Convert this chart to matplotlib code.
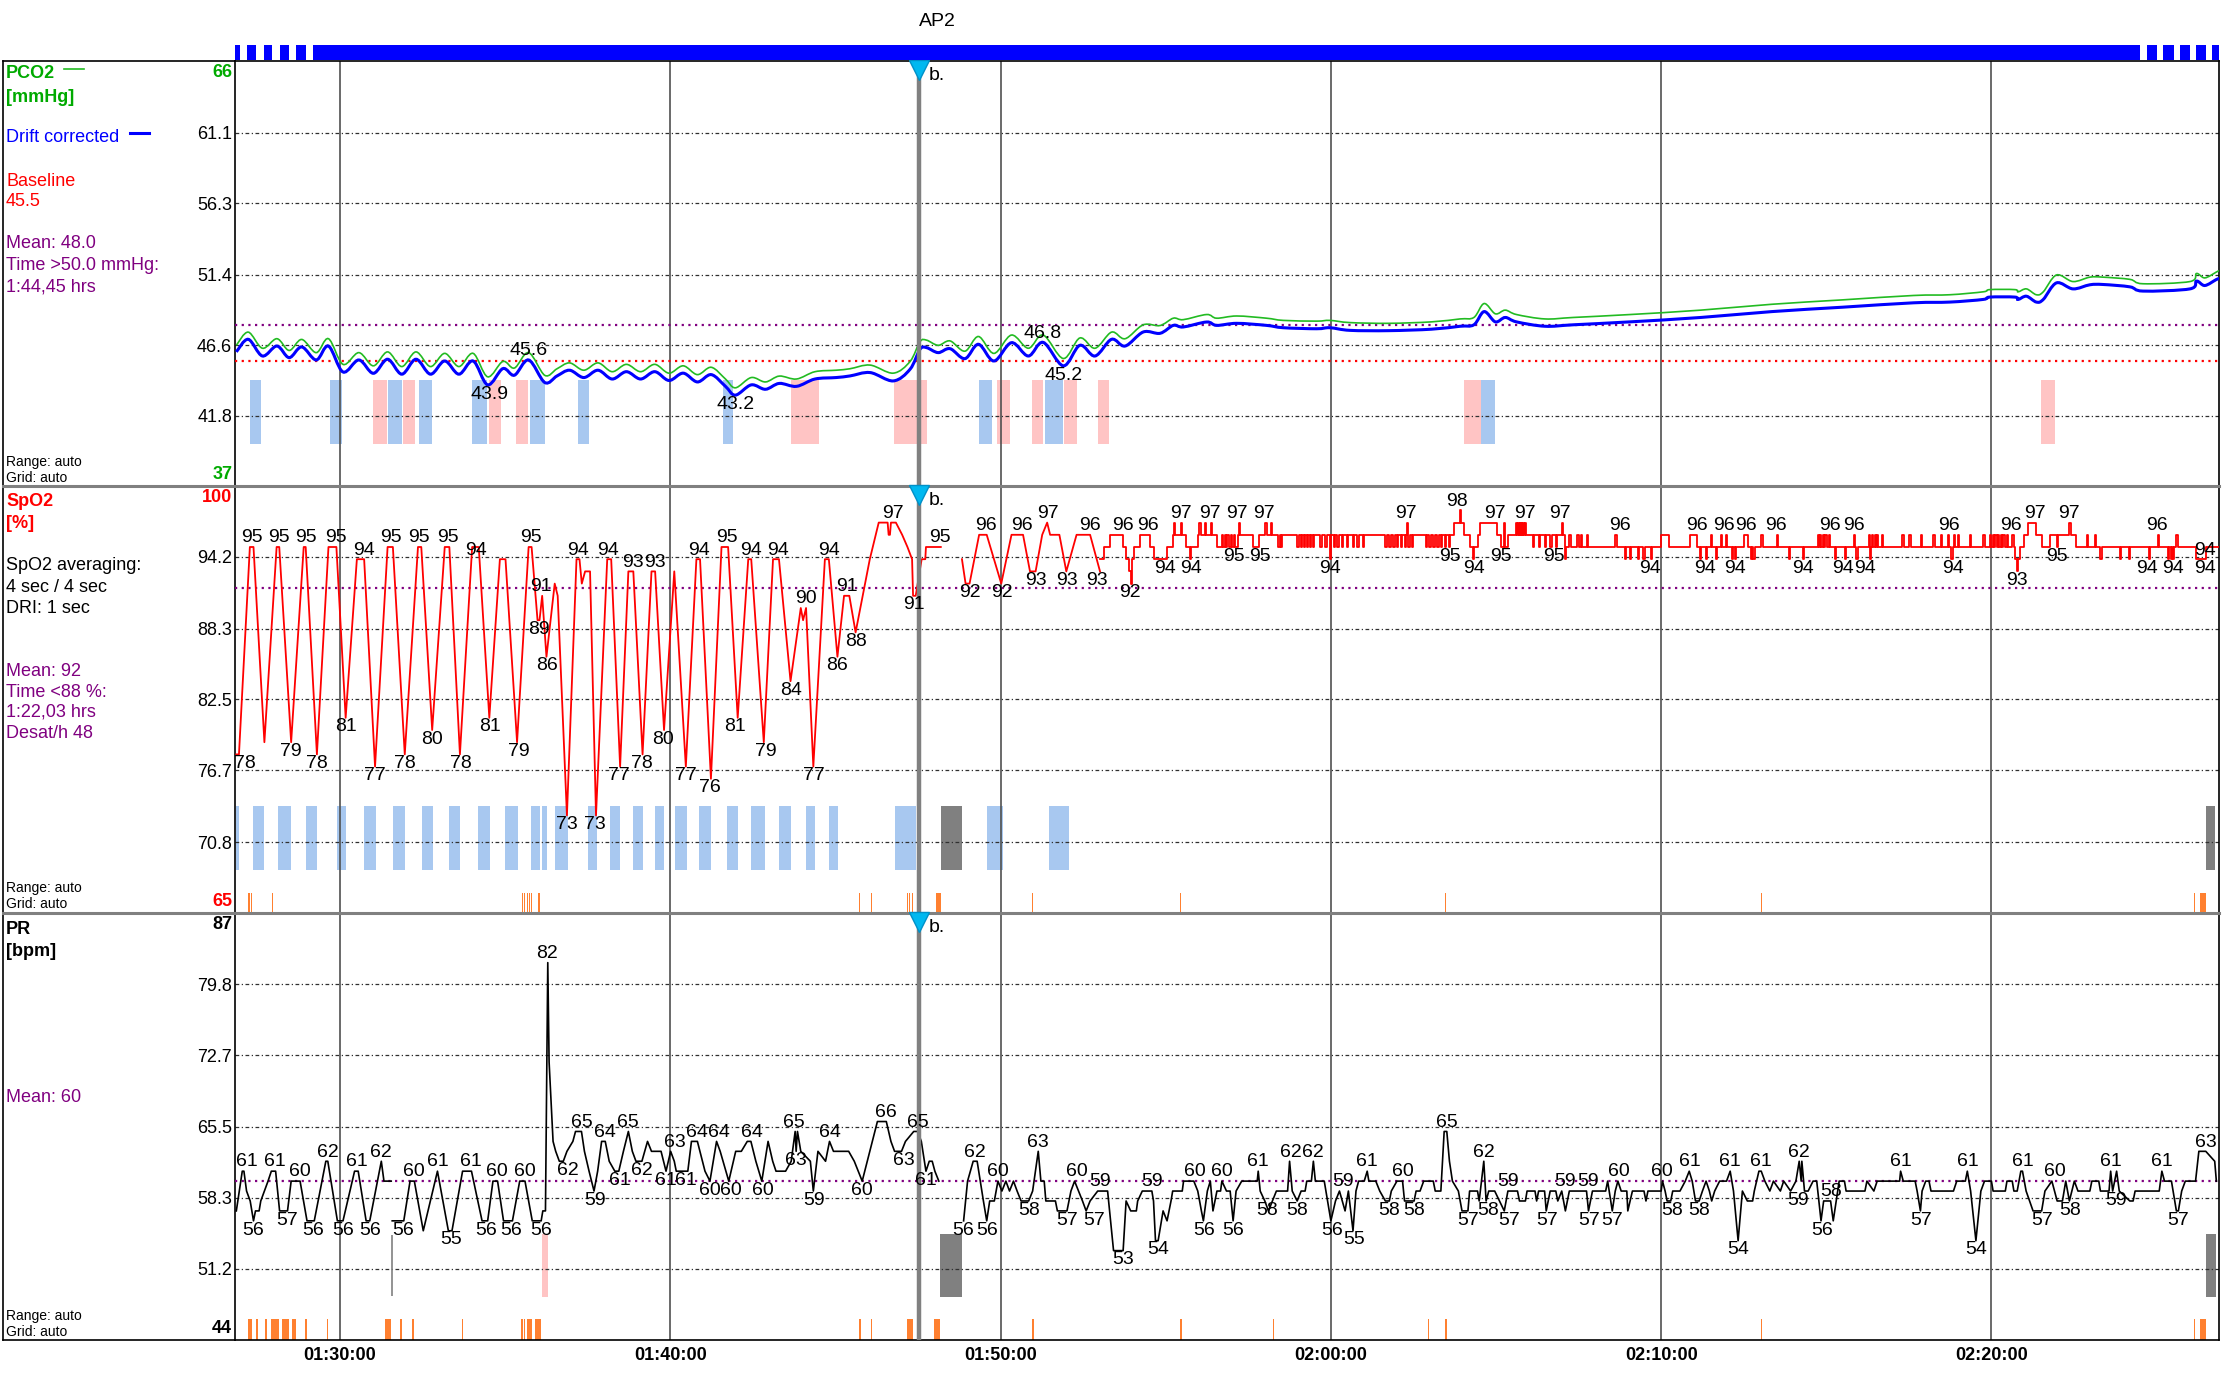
import numpy as np
import matplotlib
matplotlib.use("Agg")
import matplotlib.pyplot as plt
from matplotlib.lines import Line2D
from matplotlib.path import Path
from matplotlib.patches import PathPatch
from matplotlib.transforms import blended_transform_factory

plt.rcParams['font.family'] = ['Liberation Sans', 'DejaVu Sans']

# time axis: minutes after midnight
x_range = (86.82, 146.89)
time_ticks = [90, 100, 110, 120, 130, 140]
time_labels = ['01:30:00', '01:40:00', '01:50:00', '02:00:00', '02:10:00', '02:20:00']
marker_b = 107.53

# ---------------- PCO2 (t, drift corrected, raw) ----------------
pco2_points = [
    (86.86, 46.15, 46.60), (87.22, 47.01, 47.50), (87.65, 45.87, 46.40), (88.09, 46.55, 47.05),
    (88.46, 45.76, 46.25), (88.84, 46.49, 47.00), (89.28, 45.60, 46.10), (89.65, 46.55, 47.05),
    (90.09, 44.78, 45.30), (90.57, 45.60, 46.10), (91.01, 44.69, 45.20), (91.44, 45.65, 46.15),
    (91.87, 44.63, 45.15), (92.30, 45.65, 46.15), (92.74, 44.63, 45.15), (93.17, 45.53, 46.05),
    (93.60, 44.63, 45.15), (94.03, 45.53, 46.05), (94.47, 43.90, 44.45), (94.93, 45.01, 45.50),
    (95.28, 44.56, 45.05), (95.71, 45.60, 46.10), (96.20, 44.06, 44.55), (96.57, 44.51, 45.00),
    (96.95, 44.90, 45.40), (97.38, 44.40, 44.90), (97.81, 44.90, 45.40), (98.24, 44.30, 44.80),
    (98.67, 44.80, 45.30), (99.10, 44.30, 44.80), (99.53, 44.80, 45.30), (99.96, 44.20, 44.70),
    (100.39, 44.70, 45.20), (100.82, 44.10, 44.60), (101.24, 44.60, 45.10), (101.67, 43.80, 44.30),
    (101.97, 43.20, 43.70), (102.45, 43.90, 44.40), (102.88, 43.60, 44.10), (103.30, 44.00, 44.50),
    (103.82, 43.80, 44.30), (104.38, 44.30, 44.80), (105.02, 44.40, 44.90), (105.44, 44.51, 45.00),
    (106.05, 44.74, 45.25), (106.75, 44.17, 44.70), (107.26, 44.97, 45.50), (107.56, 46.33, 46.85),
    (107.76, 46.44, 46.95), (108.11, 46.10, 46.60), (108.47, 46.37, 46.90), (108.92, 45.69, 46.20),
    (109.33, 46.67, 47.20), (109.80, 45.53, 46.05), (110.33, 46.78, 47.30), (110.84, 45.87, 46.40),
    (111.29, 46.80, 47.30), (111.90, 45.20, 45.70), (112.40, 46.60, 47.10), (112.86, 45.87, 46.40),
    (113.36, 47.01, 47.50), (113.77, 46.55, 47.05), (114.32, 47.51, 48.00), (114.83, 47.42, 47.95),
    (115.23, 47.96, 48.45), (115.53, 47.85, 48.35), (116.24, 48.19, 48.70), (116.54, 47.96, 48.45),
    (117.15, 48.10, 48.60), (118.05, 47.96, 48.45), (118.56, 47.80, 48.30), (119.57, 47.73, 48.25),
    (119.97, 47.80, 48.30), (120.58, 47.62, 48.15), (121.76, 47.60, 48.10), (123.05, 47.70, 48.20),
    (123.91, 47.90, 48.40), (124.33, 48.00, 48.50), (124.64, 48.90, 49.45), (124.98, 48.20, 48.75),
    (125.28, 48.50, 49.00), (125.62, 48.20, 48.70), (126.48, 47.90, 48.40), (127.34, 48.00, 48.50),
    (129.06, 48.20, 48.70), (131.20, 48.50, 49.00), (133.35, 48.90, 49.40), (135.49, 49.20, 49.70),
    (137.64, 49.50, 50.00), (138.74, 49.55, 50.05), (139.75, 49.73, 50.25), (139.95, 49.89, 50.40),
    (140.71, 49.89, 50.40), (140.81, 49.73, 50.25), (141.06, 49.95, 50.45), (141.36, 49.55, 50.05),
    (141.57, 49.73, 50.25), (141.97, 50.86, 51.40), (142.47, 50.45, 50.95), (142.98, 50.73, 51.25),
    (143.38, 50.75, 51.25), (144.19, 50.59, 51.10), (144.59, 50.30, 50.80), (146.01, 50.45, 50.95),
    (146.21, 50.98, 51.50), (146.46, 50.68, 51.20), (146.81, 51.09, 51.60), (146.89, 51.15, 51.70),
]
pco2_hi = [(95.71, 45.6), (111.27, 46.8)]
pco2_lo = [(94.52, 43.9), (101.97, 43.2), (111.92, 45.2)]
pco2_mean, pco2_baseline = 48.0, 45.5
pco2_blue_bars = [(87.28, 87.60), (89.69, 90.06), (91.45, 91.87), (92.39, 92.77), (94.01, 94.44),
                  (95.74, 96.20), (97.21, 97.55), (101.59, 101.89), (109.34, 109.74),
                  (111.34, 111.88), (124.55, 124.98)]
pco2_pink_bars = [(91.01, 91.41), (91.90, 92.27), (94.50, 94.87), (95.33, 95.69), (103.65, 104.51),
                  (106.78, 107.78), (109.89, 110.28), (110.94, 111.29), (111.92, 112.32),
                  (112.94, 113.29), (124.03, 124.55), (141.50, 141.93)]

# ---------------- SpO2 ----------------
spo2_wave = [
    (86.86, 78), (86.94, 78), (87.27, 95), (87.38, 95), (87.71, 79), (88.08, 95), (88.16, 95),
    (88.52, 79), (88.90, 95), (88.96, 95), (89.30, 78), (89.65, 95), (89.89, 95), (90.17, 81),
    (90.51, 94), (90.73, 94), (91.06, 77), (91.44, 95), (91.60, 95), (91.96, 78), (92.36, 95),
    (92.46, 95), (92.79, 80), (93.17, 95), (93.31, 95), (93.63, 78), (94.00, 95), (94.20, 95),
    (94.52, 81), (94.84, 94), (95.01, 94), (95.36, 79), (95.71, 95), (95.80, 95), (95.98, 89),
    (96.04, 89), (96.12, 91), (96.25, 86), (96.50, 92), (96.59, 91), (96.87, 73), (97.16, 94),
    (97.25, 94), (97.32, 92), (97.42, 93), (97.57, 93), (97.75, 73), (98.09, 94), (98.21, 94),
    (98.48, 77), (98.73, 93), (98.88, 93), (99.16, 78), (99.43, 93), (99.54, 93), (99.81, 80),
    (100.12, 93), (100.47, 77), (100.79, 94), (100.90, 94), (101.23, 76), (101.55, 95),
    (101.75, 95), (102.04, 81), (102.36, 94), (102.45, 94), (102.83, 79), (103.11, 94),
    (103.29, 94), (103.64, 84), (103.95, 90), (104.02, 89), (104.11, 90), (104.33, 77),
    (104.68, 94), (104.80, 94), (105.06, 86), (105.26, 91), (105.42, 91), (105.61, 88),
    (106.04, 94), (106.31, 97), (106.58, 97), (106.61, 96), (106.65, 96), (106.68, 97),
    (106.83, 97), (107.02, 96), (107.18, 95), (107.32, 94), (107.35, 91), (107.43, 91),
    (107.61, 94), (107.72, 94), (107.74, 95), (108.19, 95),
]
spo2_after_gap = [
    (108.83, 94), (108.94, 92), (109.06, 92), (109.35, 96), (109.58, 96), (110.02, 92), (110.33, 96),
    (110.68, 96), (110.89, 93), (111.06, 93), (111.26, 96), (111.41, 97), (111.50, 96), (111.78, 96),
    (111.99, 93), (112.30, 96), (112.71, 96), (113.01, 93),
]
# stable part: level changes (t, value) plus short spikes per value
spo2_levels = [
    (113.01, 94), (113.12, 95), (113.30, 96), (113.71, 95), (113.80, 94), (113.88, 93), (113.94, 92),
    (113.98, 94), (114.05, 95), (114.23, 96), (114.52, 95), (114.63, 94), (115.04, 95), (115.21, 96),
    (115.62, 95), (115.97, 96), (116.55, 95), (117.18, 96), (117.65, 95), (117.82, 96), (123.74, 97),
    (124.03, 96), (124.20, 95), (124.44, 96), (124.50, 97), (125.02, 96), (125.14, 95),
    (125.37, 96), (125.60, 97), (125.91, 96), (127.08, 94), (127.12, 95), (130.00, 96), (130.24, 95),
    (130.88, 96), (131.09, 95), (132.51, 96), (132.62, 95), (140.72, 94), (140.86, 95), (141.00, 96),
    (141.10, 97), (141.34, 96), (141.52, 95), (141.76, 96), (141.97, 95), (142.02, 96), (142.57, 95),
    (146.18, 94), (146.49, 95), (146.89, 95),
]
spo2_spikes = {
    98: [123.91],
    97: [115.25, 115.45, 116.02, 116.18, 116.37, 117.22, 118.02, 118.19, 122.29, 125.23, 126.99, 142.36],
    96: [116.70, 116.78, 116.87, 116.98, 117.07, 125.64, 125.69, 125.74, 125.79, 125.84,
         127.22, 127.46, 127.57, 127.74, 128.61, 131.51, 131.80, 131.96, 133.03, 133.50, 134.74,
         134.81, 134.89, 134.97, 135.07, 135.84, 136.28, 136.38, 136.46, 136.54, 136.68, 137.30,
         137.51, 137.87, 138.24, 138.47, 138.68, 138.87, 138.99, 139.34, 139.75, 139.96, 140.05,
         140.12, 140.20, 140.29, 140.36, 140.47, 140.63, 142.88, 143.14, 145.03, 145.60],
    95: [118.41, 118.49, 118.98, 119.10, 119.18, 119.27, 119.37, 119.45, 119.68, 119.83, 120.08,
         120.20, 120.34, 120.49, 120.66, 120.80, 120.96, 121.65, 121.77, 121.89, 122.00, 122.12,
         122.24, 122.35, 122.46, 122.88, 122.98, 123.10, 123.22, 123.33, 123.45, 123.57, 126.12,
         126.29, 126.47, 126.64, 126.81],
    94: [115.73, 119.97, 124.29, 128.90, 129.05, 129.30, 129.46, 129.69, 131.18, 131.36, 131.65,
         132.14, 132.23, 132.72, 132.79, 133.87, 134.29, 135.25, 135.57, 135.91, 136.31, 138.79,
         143.30, 143.88, 144.17, 144.77, 145.34, 145.43, 145.50],
    93: [140.76],
}
spo2_hi = [
    (87.34, 95), (88.15, 95), (88.97, 95), (89.87, 95), (90.73, 94), (91.55, 95), (92.40, 95),
    (93.26, 95), (94.12, 94), (95.79, 95), (96.09, 91), (97.21, 94), (98.11, 94), (98.88, 93),
    (99.53, 93), (100.86, 94), (101.72, 95), (102.45, 94), (103.26, 94), (104.12, 90), (104.81, 94),
    (105.36, 91), (106.74, 97), (108.15, 95), (109.57, 96), (110.64, 96), (111.42, 97), (112.70, 96),
    (113.69, 96), (114.46, 96), (115.45, 97), (116.35, 97), (117.17, 97), (117.98, 97), (122.27, 97),
    (123.82, 98), (124.98, 97), (125.88, 97), (126.95, 97), (128.75, 96), (131.07, 96), (131.89, 96),
    (132.57, 96), (133.48, 96), (135.11, 96), (135.84, 96), (138.71, 96), (140.60, 96), (141.33, 97),
    (142.36, 97), (145.02, 96), (146.48, 94),
]
spo2_lo = [
    (87.12, 78), (88.50, 79), (89.31, 78), (90.17, 81), (91.07, 77), (91.97, 78), (92.79, 80),
    (93.65, 78), (94.55, 81), (95.41, 79), (96.01, 89), (96.27, 86), (96.87, 73), (97.73, 73),
    (98.45, 77), (99.14, 78), (99.79, 80), (100.47, 77), (101.20, 76), (101.97, 81), (102.88, 79),
    (103.65, 84), (104.34, 77), (105.06, 86), (105.62, 88), (107.38, 91), (109.06, 92), (110.04, 92),
    (111.07, 93), (112.02, 93), (112.92, 93), (113.91, 92), (114.98, 94), (115.75, 94), (117.08, 95),
    (117.85, 95), (119.96, 94), (123.61, 95), (124.33, 94), (125.15, 95), (126.74, 95), (129.66, 94),
    (131.33, 94), (132.23, 94), (134.29, 94), (135.50, 94), (136.17, 94), (138.84, 94), (140.77, 93),
    (141.97, 95), (144.72, 94), (145.49, 94), (146.48, 94),
]
spo2_mean = 91.6
spo2_blue_bars = [(86.86, 86.93), (87.36, 87.71), (88.12, 88.51), (88.96, 89.31), (89.90, 90.19),
                  (90.74, 91.09), (91.60, 91.98), (92.47, 92.81), (93.29, 93.63), (94.17, 94.54),
                  (94.99, 95.39), (95.78, 96.05), (96.12, 96.28), (96.50, 96.90), (97.50, 97.77),
                  (98.17, 98.49), (98.87, 99.18), (99.54, 99.82), (100.15, 100.52), (100.88, 101.22),
                  (101.72, 102.04), (102.44, 102.87), (103.28, 103.65), (104.12, 104.38),
                  (104.80, 105.08), (106.81, 107.43), (109.58, 110.06), (111.46, 112.07)]
spo2_grey_bars = [(108.21, 108.82), (146.49, 146.78)]
spo2_marks = [(87.20, 87.22), (87.24, 87.26), (87.31, 87.33), (87.95, 87.97), (95.51, 95.53),
              (95.58, 95.60), (95.65, 95.67), (95.73, 95.75), (95.78, 95.80), (96.00, 96.05),
              (105.72, 105.74), (106.07, 106.09), (107.17, 107.19), (107.23, 107.25),
              (107.31, 107.33), (108.04, 108.21), (110.94, 110.96), (115.42, 115.45),
              (123.45, 123.47), (133.01, 133.03), (146.13, 146.15), (146.32, 146.49)]

# ---------------- PR ----------------
pr_points = [
    (86.86, 57), (87.04, 61), (87.09, 61), (87.17, 59), (87.28, 58), (87.33, 57), (87.38, 56),
    (87.44, 57), (87.55, 57), (87.60, 58), (87.71, 59), (87.82, 60), (87.92, 61), (88.05, 61),
    (88.17, 57), (88.41, 57), (88.52, 60), (88.79, 60), (89.00, 56), (89.22, 56), (89.57, 62),
    (89.63, 62), (89.92, 56), (90.09, 56), (90.44, 61), (90.55, 61), (90.79, 56), (90.90, 56),
    (91.25, 62), (91.33, 60), (91.55, 60), (91.56, np.nan), (91.58, 56), (91.93, 56), (92.12, 60),
    (92.25, 60), (92.52, 55), (92.95, 61), (93.28, 55), (93.39, 55), (93.71, 61), (93.98, 61),
    (94.30, 56), (94.47, 56), (94.63, 60), (94.77, 60), (94.95, 56), (95.22, 56), (95.44, 60),
    (95.60, 60), (95.82, 56), (96.09, 56), (96.14, 57), (96.22, 57), (96.29, 82), (96.33, 72),
    (96.45, 64), (96.53, 63), (96.64, 62), (96.76, 62), (96.87, 63), (97.05, 64), (97.13, 65),
    (97.31, 65), (97.40, 63), (97.54, 61), (97.69, 59), (97.80, 61), (97.92, 64), (98.03, 64),
    (98.15, 62), (98.32, 61), (98.44, 61), (98.58, 63), (98.73, 65), (98.85, 63), (98.96, 62),
    (99.14, 62), (99.31, 64), (99.43, 63), (99.72, 63), (99.87, 61), (100.01, 63), (100.12, 62),
    (100.18, 61), (100.53, 61), (100.64, 64), (100.82, 64), (101.05, 61), (101.20, 60), (101.40, 64),
    (101.51, 63), (101.77, 60), (101.98, 63), (102.15, 63), (102.33, 64), (102.44, 64), (102.59, 62),
    (102.77, 60), (102.96, 64), (103.10, 62), (103.20, 61), (103.49, 61), (103.66, 62), (103.78, 65),
    (103.81, 63), (103.85, 65), (103.95, 63), (104.24, 62), (104.33, 59), (104.47, 63), (104.70, 62),
    (104.82, 64), (104.94, 63), (105.40, 63), (105.57, 62), (105.81, 60), (106.04, 63), (106.27, 66),
    (106.54, 66), (106.68, 64), (106.79, 63), (107.00, 63), (107.12, 64), (107.37, 65), (107.49, 65),
    (107.60, 64), (107.74, 61), (107.84, 62), (107.93, 62), (108.01, 61), (108.13, 60),
    (108.50, np.nan), (108.88, 56), (109.00, 60), (109.17, 62), (109.29, 62), (109.48, 58),
    (109.58, 56), (109.67, 58), (109.81, 58), (109.92, 60), (110.04, 59), (110.16, 60), (110.27, 59),
    (110.39, 60), (110.50, 59), (110.62, 58), (110.85, 58), (110.97, 59), (111.14, 63), (111.22, 60),
    (111.32, 60), (111.37, 58), (111.66, 58), (111.72, 57), (112.01, 57), (112.13, 59), (112.24, 60),
    (112.36, 59), (112.48, 58), (112.59, 57), (112.71, 58), (112.94, 59),
    (113.01, 59), (113.24, 59), (113.30, 57), (113.36, 55), (113.42, 53), (113.71, 53), (113.80, 58),
    (113.94, 57), (114.11, 57), (114.15, 58), (114.29, 59), (114.58, 59), (114.63, 58), (114.69, 54),
    (114.77, 54), (114.92, 57), (115.04, 56), (115.16, 58), (115.21, 59), (115.50, 59), (115.54, 60),
    (115.85, 60), (115.97, 59), (116.08, 57), (116.14, 56), (116.26, 59), (116.35, 60), (116.43, 57),
    (116.55, 59), (116.66, 59), (116.70, 60), (116.84, 59), (116.95, 59), (117.04, 56), (117.13, 59),
    (117.30, 60), (117.77, 60), (117.80, 61), (117.86, 59), (118.00, 58), (118.11, 57), (118.23, 58),
    (118.35, 59), (118.69, 59), (118.75, 62), (118.83, 59), (118.98, 58), (119.10, 59), (119.22, 59),
    (119.27, 60), (119.41, 60), (119.47, 62), (119.53, 60), (119.80, 60), (119.85, 59), (120.00, 56),
    (120.14, 58), (120.26, 59), (120.43, 57), (120.53, 59), (120.67, 55), (120.76, 59), (120.84, 60),
    (121.01, 60), (121.10, 61), (121.15, 60), (121.36, 60), (121.48, 59), (121.65, 58), (121.77, 58),
    (121.83, 59), (122.00, 60), (122.17, 60), (122.23, 58), (122.52, 58), (122.58, 59), (122.70, 59),
    (122.81, 60), (123.10, 60), (123.16, 59), (123.33, 59), (123.43, 65), (123.51, 65), (123.59, 62),
    (123.68, 60), (123.86, 59), (123.97, 57), (124.15, 57), (124.20, 59), (124.44, 59), (124.49, 58),
    (124.63, 62), (124.70, 58), (124.78, 59), (124.96, 59), (125.25, 57), (125.36, 59), (125.65, 59),
    (125.71, 58), (125.89, 58), (125.94, 59), (126.18, 59), (126.23, 58), (126.29, 59), (126.47, 59),
    (126.52, 57), (126.64, 59), (126.81, 59), (126.87, 58), (126.99, 59), (127.10, 57), (127.22, 59),
    (127.74, 59), (127.80, 57), (127.92, 59), (128.32, 59), (128.38, 60), (128.52, 57), (128.61, 59),
    (128.69, 60), (128.79, 59), (128.96, 59), (128.99, 57), (129.13, 59), (129.48, 59), (129.54, 58),
    (129.60, 59), (130.00, 59), (130.04, 60), (130.12, 59), (130.18, 58), (130.29, 58), (130.35, 59),
    (130.57, 59), (130.73, 60), (130.85, 61), (130.94, 60), (131.04, 58), (131.15, 58), (131.25, 59),
    (131.36, 60), (131.46, 59), (131.53, 58), (131.62, 59), (131.77, 60), (131.98, 60), (132.09, 61),
    (132.19, 59), (132.33, 54), (132.46, 59), (132.61, 58), (132.77, 58), (132.82, 59), (132.96, 61),
    (133.03, 61), (133.14, 60), (133.29, 59), (133.40, 60), (133.61, 59), (133.71, 60), (133.92, 59),
    (134.08, 60), (134.18, 62), (134.24, 60), (134.26, 62), (134.34, 59), (134.45, 59), (134.60, 60),
    (134.71, 60), (134.84, 56), (134.92, 58), (135.13, 58), (135.21, 56), (135.39, 60), (135.55, 60),
    (135.60, 59), (136.17, 59), (136.23, 60), (136.44, 59), (136.54, 60), (137.22, 60), (137.25, 61),
    (137.33, 60), (137.69, 60), (137.75, 59), (137.85, 57), (137.90, 59), (138.01, 60), (138.11, 60),
    (138.17, 59), (138.85, 59), (138.95, 60), (139.21, 60), (139.27, 61), (139.37, 59), (139.53, 54),
    (139.68, 59), (139.79, 60), (140.00, 60), (140.05, 59), (140.42, 59), (140.47, 60), (140.63, 60),
    (140.68, 59), (140.78, 59), (140.89, 61), (140.94, 61), (141.05, 59), (141.26, 57), (141.52, 57),
    (141.62, 59), (141.83, 60), (141.99, 58), (142.15, 58), (142.25, 60), (142.36, 58), (142.51, 60),
    (142.62, 59), (142.98, 59), (143.04, 60), (143.25, 60), (143.30, 59), (143.56, 59), (143.61, 61),
    (143.67, 59), (143.79, 61), (143.87, 59), (144.19, 58), (144.29, 58), (144.35, 59), (145.08, 59),
    (145.16, 61), (145.24, 60), (145.45, 60), (145.60, 57), (145.66, 57), (145.76, 59), (145.87, 60),
    (146.18, 60), (146.28, 63), (146.49, 63), (146.76, 62), (146.81, 60),
]
pr_hi = [
    (87.17, 61), (88.03, 61), (88.79, 60), (89.62, 62), (90.52, 61), (91.25, 62), (92.25, 60),
    (92.95, 61), (93.95, 61), (94.76, 60), (95.60, 60), (96.27, 82), (97.31, 65), (98.03, 64),
    (98.73, 65), (100.14, 63), (100.82, 64), (101.46, 64), (102.48, 64), (103.74, 65), (104.84, 64),
    (106.54, 66), (107.51, 65), (109.23, 62), (109.92, 60), (111.14, 63), (112.30, 60), (113.00, 59),
    (114.58, 59), (115.88, 60), (116.70, 60), (117.80, 61), (118.78, 62), (119.47, 62), (120.38, 59),
    (121.10, 61), (122.17, 60), (123.51, 65), (124.64, 62), (125.36, 59), (127.10, 59), (127.80, 59),
    (128.73, 60), (130.03, 60), (130.86, 61), (132.09, 61), (133.01, 61), (134.18, 62), (135.16, 58),
    (137.27, 61), (139.29, 61), (140.96, 61), (141.91, 60), (143.61, 61), (145.16, 61), (146.49, 63),
]
pr_lo = [
    (87.36, 56), (88.41, 57), (89.20, 56), (90.09, 56), (90.90, 56), (91.92, 56), (93.35, 55),
    (94.43, 56), (95.19, 56), (96.09, 56), (96.89, 62), (97.71, 59), (98.46, 61), (99.14, 62),
    (99.87, 61), (100.47, 61), (101.20, 60), (101.84, 60), (102.79, 60), (103.81, 63), (104.36, 59),
    (105.81, 60), (107.08, 63), (107.75, 61), (108.88, 56), (109.60, 56), (110.85, 58), (112.01, 57),
    (112.82, 57), (113.71, 53), (114.77, 54), (116.17, 56), (117.04, 56), (118.06, 58), (118.98, 58),
    (120.03, 56), (120.69, 55), (121.77, 58), (122.52, 58), (124.15, 57), (124.76, 58), (125.40, 57),
    (126.56, 57), (127.83, 57), (128.53, 57), (130.32, 58), (131.15, 58), (132.33, 54), (134.13, 59),
    (134.87, 56), (137.88, 57), (139.53, 54), (141.54, 57), (142.39, 58), (143.77, 59), (145.66, 57),
]
pr_mean = 60
pr_pink_bars = [(96.10, 96.31)]
pr_grey_bars = [(108.18, 108.82), (146.49, 146.81)]
pr_artifact = 91.57
pr_marks = [(87.20, 87.33), (87.47, 87.51), (87.73, 87.79), (87.92, 88.14), (88.25, 88.44),
            (88.55, 88.66), (88.95, 88.98), (89.60, 89.63), (91.36, 91.55), (91.82, 91.88),
            (92.19, 92.25), (93.69, 93.72), (95.49, 95.52), (95.57, 95.61), (95.67, 95.80),
            (95.91, 96.09), (105.72, 105.76), (106.07, 106.10), (107.17, 107.35), (107.99, 108.18),
            (110.94, 111.00), (115.42, 115.48), (118.25, 118.29), (122.93, 122.95), (123.45, 123.52),
            (133.01, 133.04), (146.13, 146.16), (146.32, 146.49)]

# top status bar
status_segments = [(86.82, 86.97), (87.19, 87.47), (87.69, 87.95), (88.19, 88.46), (88.68, 88.98),
                   (89.17, 144.51), (144.71, 145.02), (145.20, 145.52), (145.70, 146.01),
                   (146.19, 146.49), (146.69, 146.89)]

# ---------------- styles ----------------
GREEN_T, GREEN_L = '#00aa00', '#22bb22'
BLUE = '#0000ff'
RED = '#ff0000'
PURPLE = '#800080'
LBLUE, PINK, GREY = '#a8c8f0', '#ffc4c4', '#808080'
ORANGE = '#ff8030'
GRID_LS = (0, (3, 2, 1, 2))
DOT_LS = (0, (1, 2))
FS = 13
FS_VAL = 14

W_PX, H_PX = 2223, 1375
L_PX, R_PX = 235, 2219


def fx(px):
    return px / W_PX


def fy(py):
    return 1 - py / H_PX


def spiked_steps(levels, spikes, width=0.04):
    bt = np.array([p[0] for p in levels])
    bv = np.array([p[1] for p in levels])
    sp = sorted((t, v) for v, ts in spikes.items() for t in ts)
    pts = sorted(set(bt.tolist()) | {t for t, _ in sp} | {round(t + width, 4) for t, _ in sp})
    vals = []
    for p in pts:
        v = bv[max(np.searchsorted(bt, p, side='right') - 1, 0)]
        for s, sv in sp:
            if s <= p < s + width - 1e-6:
                v = sv
        vals.append(v)
    return np.array(pts), np.array(vals)


def smooth_path(xs, ys):
    # Catmull-Rom through the read points, drawn as cubic Bezier segments
    pts = np.column_stack([xs, ys])
    verts = [pts[0]]
    codes = [Path.MOVETO]
    n = len(pts)
    for i in range(n - 1):
        p0 = pts[max(i - 1, 0)]
        p1, p2 = pts[i], pts[i + 1]
        p3 = pts[min(i + 2, n - 1)]
        verts += [p1 + (p2 - p0) / 6, p2 - (p3 - p1) / 6, p2]
        codes += [Path.CURVE4] * 3
    return Path(verts, codes)


fig = plt.figure(figsize=(22.23, 13.75), dpi=100)

panel_px = [(61, 486), (486, 913), (913, 1340)]
ylims = [(37, 66), (65, 100), (44, 87)]
grids = [[41.8, 46.6, 51.4, 56.3, 61.1], [70.8, 76.7, 82.5, 88.3, 94.2], [51.2, 58.3, 65.5, 72.7, 79.8]]
range_lbl = [('66', '37', GREEN_T), ('100', '65', RED), ('87', '44', 'black')]

axes = []
for i, (top, bot) in enumerate(panel_px):
    lab = fig.add_axes([fx(3), fy(bot), fx(L_PX) - fx(3), (bot - top) / H_PX])
    lab.set_xticks([])
    lab.set_yticks([])
    for s in lab.spines.values():
        s.set_color('black')
        s.set_linewidth(1.2)
    lab.spines['right'].set_visible(False)
    if i > 0:
        lab.spines['top'].set_color(GREY)
        lab.spines['top'].set_linewidth(2.2)
    ax = fig.add_axes([fx(L_PX), fy(bot), fx(R_PX) - fx(L_PX), (bot - top) / H_PX])
    ax.set_xlim(*x_range)
    ax.set_ylim(*ylims[i])
    ax.set_yticks(grids[i])
    ax.set_yticklabels([f'{g:.1f}' for g in grids[i]], fontsize=FS)
    ax.tick_params(axis='y', length=0, pad=2)
    ax.tick_params(axis='x', length=0)
    for g in grids[i]:
        ax.axhline(g, color='#303030', lw=0.9, ls=GRID_LS, zorder=2)
    for t in time_ticks:
        ax.axvline(t, color='#505050', lw=1.2, zorder=2)
    for s in ax.spines.values():
        s.set_color('black')
        s.set_linewidth(1.2)
    if i > 0:
        ax.spines['top'].set_color(GREY)
        ax.spines['top'].set_linewidth(2.2)
    hi, lo, col = range_lbl[i]
    ax.annotate(hi, xy=(0, 1), xycoords='axes fraction', xytext=(-2, -2), textcoords='offset points',
                ha='right', va='top', fontsize=13, fontweight='bold', color=col)
    ax.annotate(lo, xy=(0, 0), xycoords='axes fraction', xytext=(-2, 2), textcoords='offset points',
                ha='right', va='bottom', fontsize=13, fontweight='bold', color=col)
    # marker b.
    tr = blended_transform_factory(ax.transData, ax.transAxes)
    ax.axvline(marker_b, color=GREY, lw=3.2, zorder=5)
    ax.plot([marker_b], [0.978], marker='v', ms=14, mfc='#00b8f0', mec='#0090c8', mew=1,
            transform=tr, clip_on=False, zorder=6)
    ax.text(marker_b + 0.28, 0.967, 'b.', transform=tr, fontsize=FS_VAL, va='center', ha='left', zorder=6)
    axes.append(ax)

ax1, ax2, ax3 = axes
ax1.set_xticks([])
ax2.set_xticks([])
ax3.set_xticks(time_ticks)
ax3.set_xticklabels(time_labels, fontsize=FS, fontweight='bold')
ax3.tick_params(axis='x', length=0, pad=5)


def draw_bars(ax, spans, y0, y1, color):
    for a, b in spans:
        ax.bar(a, y1 - y0, width=max(b - a, 0.035), bottom=y0, align='edge', color=color, lw=0, zorder=1)


def label_points(ax, pts, above, fmt='{:d}'):
    for t, v in pts:
        txt = fmt.format(v)
        ax.annotate(txt, (t, v), xytext=(0, 0.5 if above else -0.5), textcoords='offset points',
                    ha='center', va='bottom' if above else 'top', fontsize=FS_VAL, zorder=7)


# ---- PCO2 panel ----
pc = np.array(pco2_points)
draw_bars(ax1, pco2_blue_bars, 39.86, 44.22, LBLUE)
draw_bars(ax1, pco2_pink_bars, 39.86, 44.22, PINK)
ax1.axhline(pco2_mean, color=PURPLE, lw=1.6, ls=DOT_LS, dash_capstyle='butt', zorder=3)
ax1.axhline(pco2_baseline, color=RED, lw=1.6, ls=DOT_LS, dash_capstyle='butt', zorder=3)
ax1.add_patch(PathPatch(smooth_path(pc[:, 0], pc[:, 2]), fill=False, edgecolor=GREEN_L, lw=1.2, zorder=4))
ax1.add_patch(PathPatch(smooth_path(pc[:, 0], pc[:, 1]), fill=False, edgecolor=BLUE, lw=2.2, zorder=4))
label_points(ax1, pco2_hi, True, '{:.1f}')
label_points(ax1, pco2_lo, False, '{:.1f}')

# ---- SpO2 panel ----
draw_bars(ax2, spo2_blue_bars, 68.55, 73.75, LBLUE)
draw_bars(ax2, spo2_grey_bars, 68.55, 73.75, GREY)
draw_bars(ax2, spo2_marks, 65.0, 66.64, ORANGE)
ax2.axhline(spo2_mean, color=PURPLE, lw=1.6, ls=DOT_LS, dash_capstyle='butt', zorder=3)
w = np.array(spo2_wave)
ax2.plot(w[:, 0], w[:, 1], color=RED, lw=1.3, zorder=4)
g = np.array(spo2_after_gap)
ax2.plot(g[:, 0], g[:, 1], color=RED, lw=1.3, zorder=4)
st, sv = spiked_steps(spo2_levels, spo2_spikes)
ax2.plot(st, sv, color=RED, lw=1.3, drawstyle='steps-post', zorder=4)
label_points(ax2, spo2_hi, True)
label_points(ax2, spo2_lo, False)

# ---- PR panel ----
draw_bars(ax3, pr_pink_bars, 48.3, 54.7, PINK)
draw_bars(ax3, pr_grey_bars, 48.3, 54.7, GREY)
draw_bars(ax3, pr_marks, 44.0, 46.1, ORANGE)
ax3.vlines(pr_artifact, 48.4, 54.6, color=GREY, lw=1.2, zorder=3)
ax3.axhline(pr_mean, color=PURPLE, lw=1.6, ls=DOT_LS, dash_capstyle='butt', zorder=3)
p = np.array(pr_points, dtype=float)
ax3.plot(p[:, 0], p[:, 1], color='black', lw=1.2, zorder=4)
label_points(ax3, pr_hi, True)
label_points(ax3, pr_lo, False)

# ---- status bar ----
axb = fig.add_axes([fx(L_PX), fy(60), fx(R_PX) - fx(L_PX), 15 / H_PX])
axb.set_xlim(*x_range)
axb.set_ylim(0, 1)
axb.axis('off')
for a, b in status_segments:
    axb.bar(a, 1, width=b - a, bottom=0, align='edge', color=BLUE, lw=0)

fig.text(fx(937), fy(21), 'AP2', ha='center', va='center', fontsize=14)

# ---- left side texts ----
left_texts = [
    (74, 'PCO2', GREEN_T, 'bold', FS), (97, '[mmHg]', GREEN_T, 'bold', FS),
    (138, 'Drift corrected', BLUE, 'normal', FS),
    (181, 'Baseline', RED, 'normal', FS), (202, '45.5', RED, 'normal', FS),
    (243, 'Mean: 48.0', PURPLE, 'normal', FS), (265, 'Time >50.0 mmHg:', PURPLE, 'normal', FS),
    (287, '1:44,45 hrs', PURPLE, 'normal', FS),
    (462, 'Range: auto', 'black', 'normal', 10), (478, 'Grid: auto', 'black', 'normal', 10),
    (501, 'SpO2', RED, 'bold', FS), (523, '[%]', RED, 'bold', FS),
    (565, 'SpO2 averaging:', 'black', 'normal', FS), (587, '4 sec / 4 sec', 'black', 'normal', FS),
    (608, 'DRI: 1 sec', 'black', 'normal', FS),
    (671, 'Mean: 92', PURPLE, 'normal', FS), (692, 'Time <88 %:', PURPLE, 'normal', FS),
    (712, '1:22,03 hrs', PURPLE, 'normal', FS), (733, 'Desat/h 48', PURPLE, 'normal', FS),
    (888, 'Range: auto', 'black', 'normal', 10), (904, 'Grid: auto', 'black', 'normal', 10),
    (929, 'PR', 'black', 'bold', FS), (951, '[bpm]', 'black', 'bold', FS),
    (1098, 'Mean: 60', PURPLE, 'normal', FS),
    (1316, 'Range: auto', 'black', 'normal', 10), (1332, 'Grid: auto', 'black', 'normal', 10),
]
for py, s, c, wgt, fs in left_texts:
    fig.text(fx(6), fy(py), s, color=c, fontweight=wgt, fontsize=fs, ha='left', va='center')

fig.add_artist(Line2D([fx(64), fx(84)], [fy(69), fy(69)], color=GREEN_L, lw=1.2))
fig.add_artist(Line2D([fx(130), fx(149)], [fy(133), fy(133)], color=BLUE, lw=2.2))

fig.savefig('out.png', dpi=100)
